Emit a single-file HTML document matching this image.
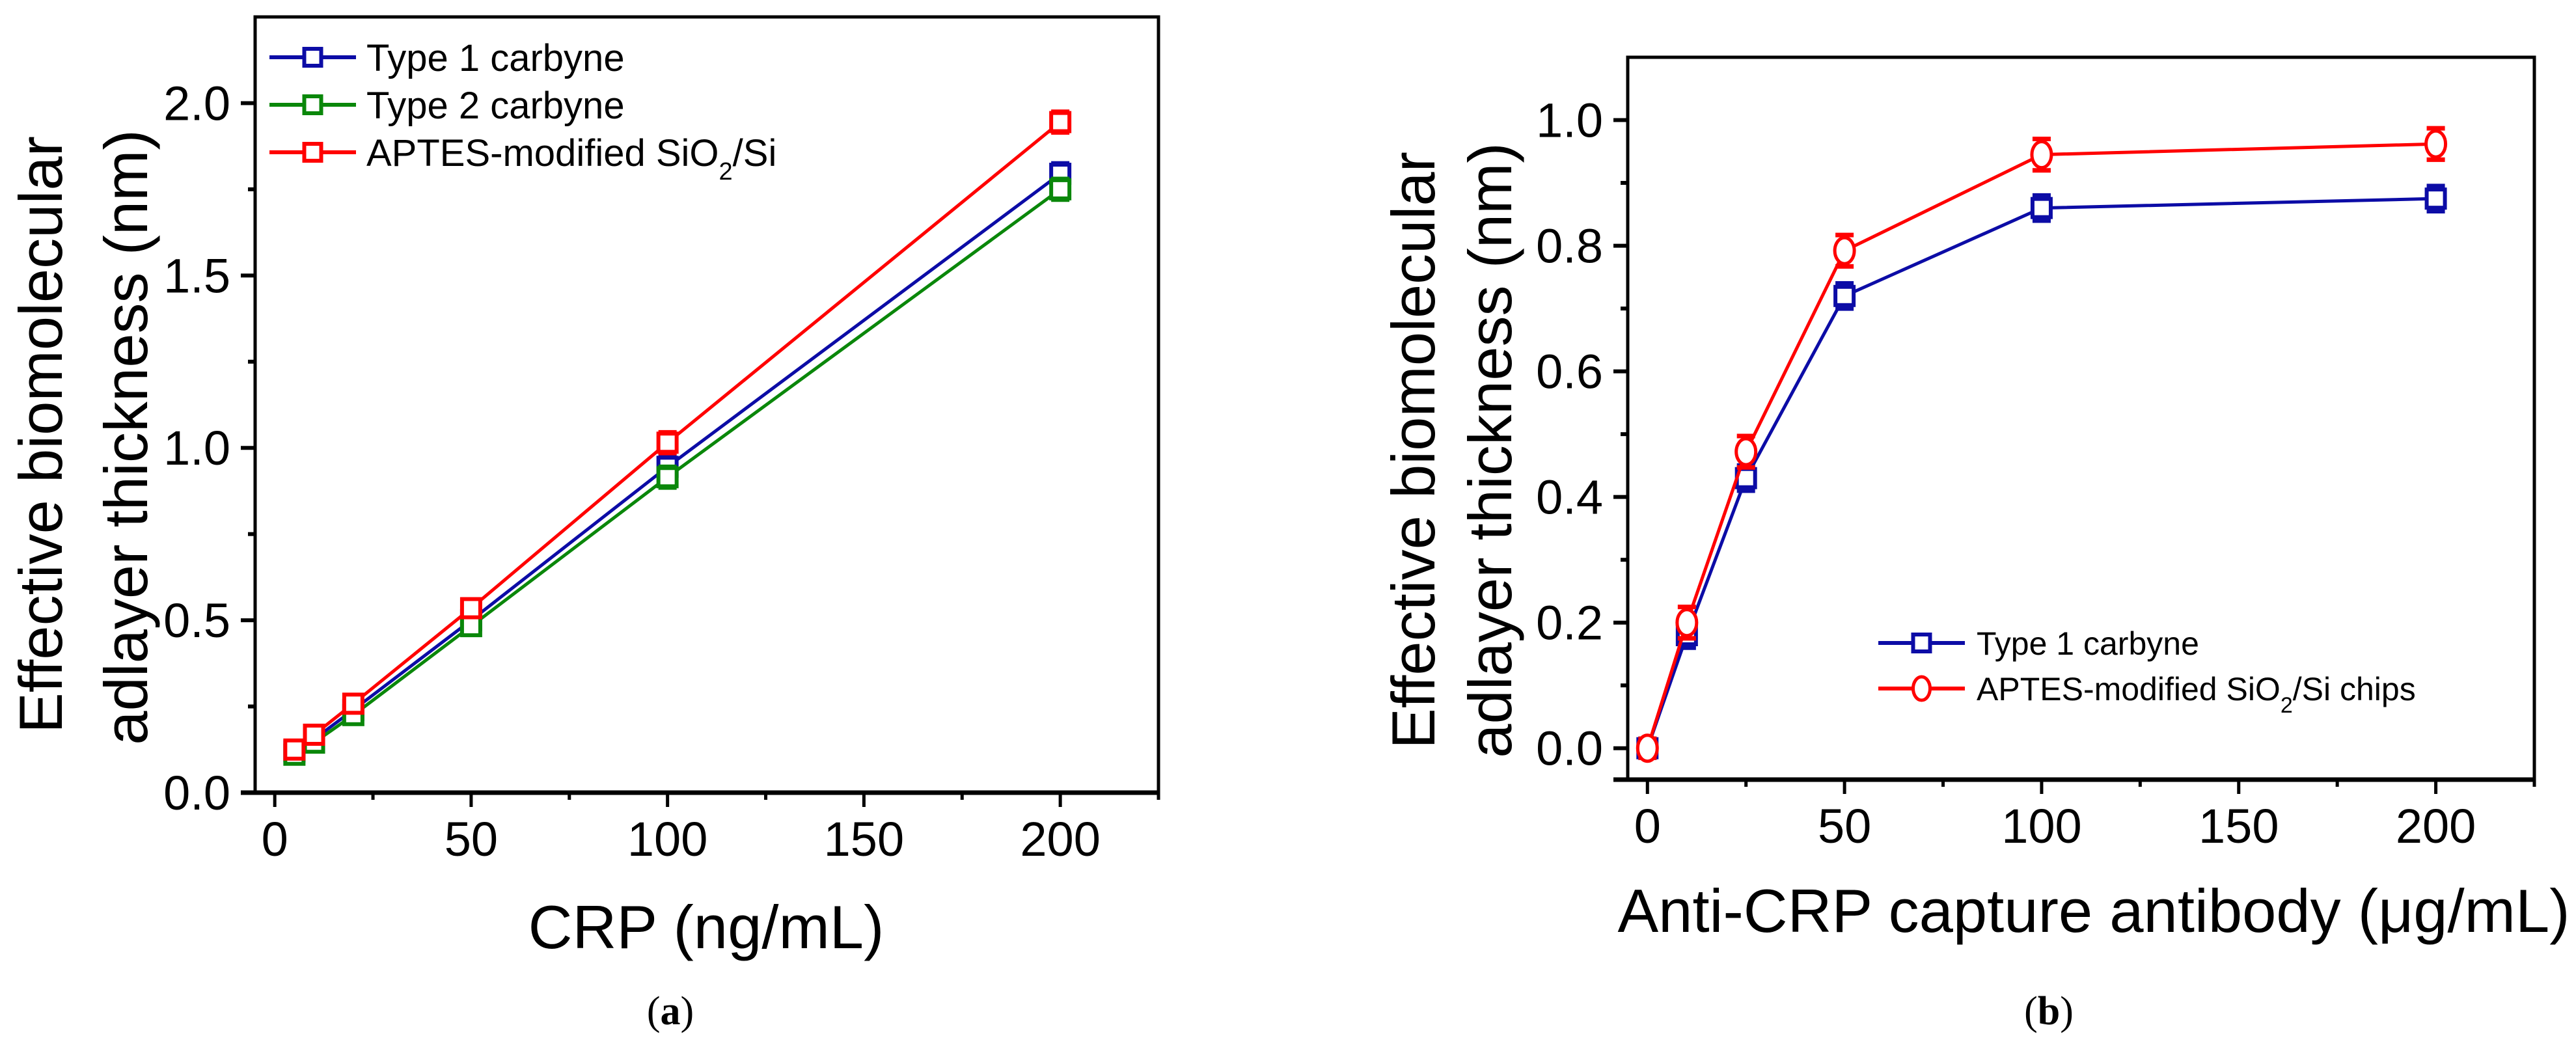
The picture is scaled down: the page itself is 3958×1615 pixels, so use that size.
<!DOCTYPE html>
<html><head><meta charset="utf-8"><style>
html,body{margin:0;padding:0;background:#fff;}
svg{display:block;font-family:"Liberation Sans",Arial,sans-serif;}
</style></head><body>
<svg id="fig" width="3958" height="1615" viewBox="0 0 3958 1615" xmlns="http://www.w3.org/2000/svg">
<rect width="3958" height="1615" fill="#fff"/>
<g id="pa"></g>
<g id="pb"></g>
</svg>
<script>
// Panel (a) data
const aX = [5, 10, 20, 50, 100, 200];
const aType1 = [0.12, 0.155, 0.24, 0.50, 0.945, 1.795];
const aType2 = [0.11, 0.145, 0.225, 0.483, 0.915, 1.75];
const aAptes = [0.125, 0.168, 0.258, 0.535, 1.015, 1.945];
const aErr = [0.02, 0.02, 0.025, 0.025, 0.03, 0.03];
const aXTicks = [0, 50, 100, 150, 200];
const aYTicks = ["0.0", "0.5", "1.0", "1.5", "2.0"];
// Panel (b) data
const bX = [0, 10, 25, 50, 100, 200];
const bType1 = [0.0, 0.18, 0.43, 0.72, 0.86, 0.875];
const bAptes = [0.0, 0.20, 0.472, 0.792, 0.945, 0.962];
const bErr1 = [0.015, 0.02, 0.02, 0.02, 0.02, 0.02];
const bErr2 = [0.015, 0.025, 0.025, 0.025, 0.025, 0.025];
const bXTicks = [0, 50, 100, 150, 200];
const bYTicks = ["0.0", "0.2", "0.4", "0.6", "0.8", "1.0"];

const NS = "http://www.w3.org/2000/svg";
function mk(parent, tag, attrs, text) {
  const e = document.createElementNS(NS, tag);
  for (const k in attrs) e.setAttribute(k, attrs[k]);
  if (text !== undefined) e.textContent = text;
  parent.appendChild(e);
  return e;
}
const BLUE = "#0c0ca6", GREEN = "#0a870a", RED = "#ff0000";

function drawPanel(g, cfg) {
  const sx = v => cfg.L + (v - cfg.x0) / (cfg.x1 - cfg.x0) * (cfg.R - cfg.L);
  const sy = v => cfg.B - (v - cfg.y0) / (cfg.y1 - cfg.y0) * (cfg.B - cfg.T);
  // ticks
  cfg.xt.forEach(v => {
    const t = mk(g, "line", {x1: sx(v), x2: sx(v), y1: cfg.B, y2: cfg.B + 22, stroke: "#000", "stroke-width": 5});
    
    
    const l = mk(g, "text", {x: sx(v), y: cfg.B + 97, "font-size": 74, "text-anchor": "middle"}, String(v));
    
    
  });
  cfg.xm.forEach(v => {
    const t = mk(g, "line", {x1: sx(v), x2: sx(v), y1: cfg.B, y2: cfg.B + 11, stroke: "#000", "stroke-width": 5});
    
    
  });
  cfg.yt.forEach(s => {
    const v = parseFloat(s);
    const t = mk(g, "line", {x1: cfg.L - 22, x2: cfg.L, y1: sy(v), y2: sy(v), stroke: "#000", "stroke-width": 6});
    
    
    const l = mk(g, "text", {x: cfg.L - 38, y: sy(v) + 26, "font-size": 74, "text-anchor": "end"}, s);
    
    
  });
  cfg.ym.forEach(v => {
    const t = mk(g, "line", {x1: cfg.L - 11, x2: cfg.L, y1: sy(v), y2: sy(v), stroke: "#000", "stroke-width": 6});
    
    
  });
  // series
  cfg.series.forEach(s => {
    const pts = s.x.map((xv, i) => sx(xv) + "," + sy(s.y[i])).join(" ");
    const pl = mk(g, "polyline", {points: pts, fill: "none", stroke: s.c, "stroke-width": 5});
    
    
    s.x.forEach((xv, i) => {
      const cx = sx(xv), cy = sy(s.y[i]), e = s.e[i];
      const eb = mk(g, "path", {d: `M${cx},${sy(s.y[i] - e)}V${sy(s.y[i] + e)}M${cx - 14},${sy(s.y[i] - e)}h28M${cx - 14},${sy(s.y[i] + e)}h28`, stroke: s.c, "stroke-width": 7, fill: "none"});
      
      
      let m;
      if (s.shape === "circle") m = mk(g, "ellipse", {cx: cx, cy: cy, rx: 15, ry: 20, fill: "#fff", stroke: s.c, "stroke-width": 5});
      else m = mk(g, "rect", {x: cx - 14, y: cy - 14, width: 28, height: 28, fill: "#fff", stroke: s.c, "stroke-width": 6});
      
      
    });
  });
  // frame
  const fr = mk(g, "path", {d: `M${cfg.L},${cfg.B}V${cfg.T}H${cfg.R}V${cfg.B}`, fill: "none", stroke: "#000", "stroke-width": 5});
  
  
  const xa = mk(g, "line", {x1: cfg.L - 22, x2: cfg.R + 2, y1: cfg.B, y2: cfg.B, stroke: "#000", "stroke-width": 7});
  
  
  // legend
  cfg.legend.forEach((it, i) => {
    const y = cfg.legY[i];
    const lg = mk(g, "g", {});
    
    
    mk(lg, "line", {x1: cfg.legX0, x2: cfg.legX1, y1: y, y2: y, stroke: it.c, "stroke-width": 6});
    const mx = (cfg.legX0 + cfg.legX1) / 2;
    if (it.shape === "circle") mk(lg, "ellipse", {cx: mx, cy: y, rx: 13, ry: 18, fill: "#fff", stroke: it.c, "stroke-width": 5});
    else mk(lg, "rect", {x: mx - 13, y: y - 13, width: 26, height: 26, fill: "#fff", stroke: it.c, "stroke-width": 6});
    const t = mk(lg, "text", {x: cfg.legTX, y: y + cfg.legFS * 0.36, "font-size": cfg.legFS});
    t.innerHTML = it.label;
  });
}

drawPanel(document.getElementById("pa"), {
  L: 392, R: 1780, T: 26, B: 1218, x0: -5, x1: 225, y0: 0, y1: 2.25,
  xt: aXTicks, xm: [25, 75, 125, 175, 225], yt: aYTicks, ym: [0.25, 0.75, 1.25, 1.75],
  series: [
    {name: "type1", x: aX, y: aType1, e: aErr, c: BLUE, shape: "square"},
    {name: "type2", x: aX, y: aType2, e: aErr, c: GREEN, shape: "square"},
    {name: "aptes", x: aX, y: aAptes, e: aErr, c: RED, shape: "square"}
  ],
  legend: [
    {c: BLUE, shape: "square", label: "Type 1 carbyne"},
    {c: GREEN, shape: "square", label: "Type 2 carbyne"},
    {c: RED, shape: "square", label: 'APTES-modified SiO<tspan baseline-shift="sub" font-size="38">2</tspan>/Si'}
  ],
  legX0: 414, legX1: 547, legY: [88, 161, 234], legTX: 563, legFS: 58
});

drawPanel(document.getElementById("pb"), {
  L: 2501, R: 3894, T: 88, B: 1198, x0: -5, x1: 225, y0: -0.05, y1: 1.1,
  xt: bXTicks, xm: [25, 75, 125, 175, 225], yt: bYTicks, ym: [0.1, 0.3, 0.5, 0.7, 0.9],
  series: [
    {name: "type1", x: bX, y: bType1, e: bErr1, c: BLUE, shape: "square"},
    {name: "aptes", x: bX, y: bAptes, e: bErr2, c: RED, shape: "circle"}
  ],
  legend: [
    {c: BLUE, shape: "square", label: "Type 1 carbyne"},
    {c: RED, shape: "circle", label: 'APTES-modified SiO<tspan baseline-shift="sub" font-size="34">2</tspan>/Si chips'}
  ],
  legX0: 2886, legX1: 3019, legY: [988, 1058], legTX: 3037, legFS: 50
});
</script>
<svg width="0" height="0" style="position:absolute"></svg>
<script>
(function(){
  const svg = document.getElementById("fig");
  const NS = "http://www.w3.org/2000/svg";
  const add = (html) => { const g = document.createElementNS(NS, "g"); g.innerHTML = html; svg.appendChild(g); };
  add('<text transform="translate(95,668) rotate(-90)" font-size="94" text-anchor="middle">Effective biomolecular</text>' +
      '<text transform="translate(226,672) rotate(-90)" font-size="94" text-anchor="middle">adlayer thickness (nm)</text>' +
      '<text x="1085" y="1457" font-size="94" text-anchor="middle">CRP (ng/mL)</text>' +
      '<text x="1030" y="1574" font-size="62" text-anchor="middle" font-family="Liberation Serif, serif">(<tspan font-weight="bold">a</tspan>)</text>' +
      '<text transform="translate(2204,692) rotate(-90)" font-size="94" text-anchor="middle">Effective biomolecular</text>' +
      '<text transform="translate(2322,692) rotate(-90)" font-size="94" text-anchor="middle">adlayer thickness (nm)</text>' +
      '<text x="3217" y="1432" font-size="94" text-anchor="middle">Anti-CRP capture antibody (μg/mL)</text>' +
      '<text x="3148" y="1574" font-size="62" text-anchor="middle" font-family="Liberation Serif, serif">(<tspan font-weight="bold">b</tspan>)</text>');
})();
</script>
</body></html>
